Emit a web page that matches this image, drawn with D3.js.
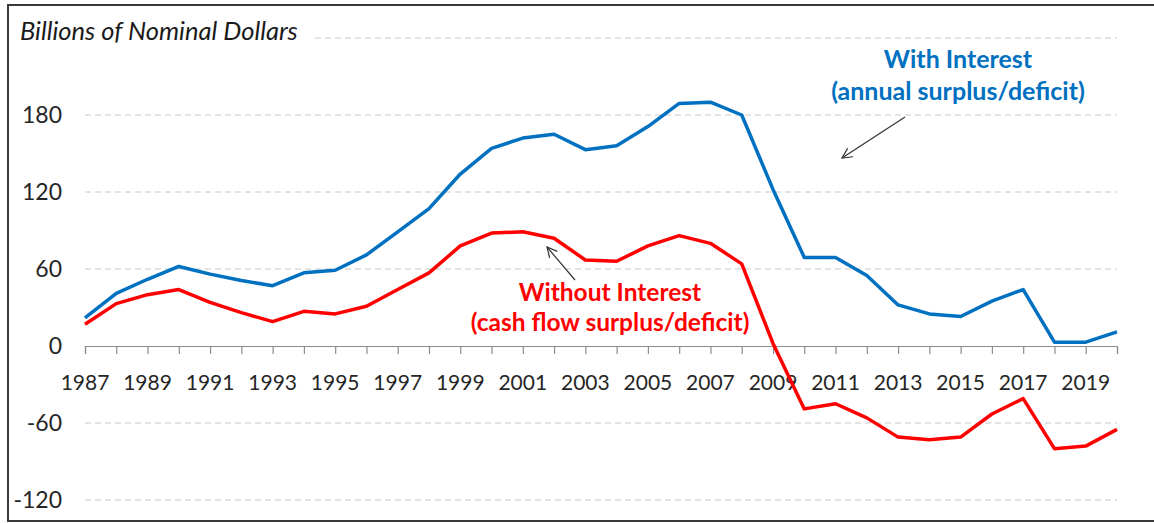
<!DOCTYPE html>
<html>
<head>
<meta charset="utf-8">
<script src="https://cdn.jsdelivr.net/npm/d3@7"></script>
<style>
  body { margin: 0; background: #fff; }
  svg { display: block; font-family: Lato, "Open Sans", sans-serif; }
</style>
</head>
<body>
<div id="chart"></div>
<script>
// years on the x axis
const years = d3.range(1987, 2021);

// with interest (annual surplus/deficit), billions
const withInterest = [22, 41, 52, 62, 56, 51, 47, 57, 59, 71, 89, 107, 134, 154, 162, 165, 153, 156, 171, 189, 190, 180, 122, 69, 69, 55, 32, 25, 23, 35, 44, 3, 3, 11];

// without interest (cash flow surplus/deficit), billions
const withoutInterest = [17, 33, 40, 44, 34, 26, 19, 27, 25, 31, 44, 57, 78, 88, 89, 84, 67, 66, 78, 86, 80, 64, 2, -49, -45, -56, -71, -73, -71, -53, -41, -80, -78, -65];

const yTicks = [-120, -60, 0, 60, 120, 180, 240];
const xLabelYears = years.filter(y => (y - 1987) % 2 === 0);

const width = 1154, height = 523;
const svg = d3.select("#chart").append("svg")
    .attr("width", width)
    .attr("height", height);

// outer frame
svg.append("rect")
    .attr("x", 8).attr("y", 5)
    .attr("width", 1170).attr("height", 516)
    .attr("fill", "none")
    .attr("stroke", "#3a3a3a")
    .attr("stroke-width", 2);

const x = d3.scaleLinear().domain([1987, 2020]).range([85, 1117]);
const y = d3.scaleLinear().domain([-120, 240]).range([500, 38]);

// dashed gridlines
svg.append("g").selectAll("line")
    .data(yTicks.filter(t => t !== 0))
    .join("line")
    .attr("x1", 85).attr("x2", 1117)
    .attr("y1", d => y(d)).attr("y2", d => y(d))
    .attr("stroke", "#c8c8c8")
    .attr("stroke-width", 1)
    .attr("stroke-dasharray", "6,4");

// y labels
svg.append("g").selectAll("text")
    .data(yTicks.filter(t => t !== 240))
    .join("text")
    .attr("x", 62)
    .attr("y", d => y(d))
    .attr("dy", "0.35em")
    .attr("text-anchor", "end")
    .attr("font-size", 23)
    .attr("fill", "#262626")
    .text(d => d);

// zero axis with ticks
const xAxis = d3.axisBottom(x)
    .tickValues(years)
    .tickSize(8)
    .tickFormat("");
const axisG = svg.append("g")
    .attr("transform", `translate(0,${y(0)})`)
    .call(xAxis);
axisG.select(".domain").attr("stroke", "#8c8c8c").attr("stroke-width", 1.2);
axisG.selectAll(".tick line").attr("stroke", "#8c8c8c").attr("stroke-width", 1.2);

svg.append("g").selectAll("text")
    .data(xLabelYears)
    .join("text")
    .attr("x", d => x(d))
    .attr("y", y(0) + 44)
    .attr("text-anchor", "middle")
    .attr("font-size", 21)
    .attr("fill", "#262626")
    .text(d => d);

// title, sits over the top gridline
svg.append("rect")
    .attr("x", 15).attr("y", 18)
    .attr("width", 296).attr("height", 30)
    .attr("fill", "#fff");
svg.append("text")
    .attr("x", 20).attr("y", 40)
    .attr("font-size", 25.5)
    .attr("font-style", "italic")
    .attr("fill", "#1a1a1a")
    .text("Billions of Nominal Dollars");

// lines
const line = d3.line()
    .x((d, i) => x(years[i]))
    .y(d => y(d));

svg.append("path")
    .datum(withoutInterest)
    .attr("d", line)
    .attr("fill", "none")
    .attr("stroke", "#ff0000")
    .attr("stroke-width", 3.5)
    .attr("stroke-linejoin", "round");

svg.append("path")
    .datum(withInterest)
    .attr("d", line)
    .attr("fill", "none")
    .attr("stroke", "#0070c0")
    .attr("stroke-width", 3.5)
    .attr("stroke-linejoin", "round");

// arrows
const defs = svg.append("defs");
defs.append("marker")
    .attr("id", "arr")
    .attr("viewBox", "0 0 12 12")
    .attr("refX", 11).attr("refY", 6)
    .attr("markerWidth", 12).attr("markerHeight", 12)
    .attr("markerUnits", "userSpaceOnUse")
    .attr("orient", "auto")
    .append("path")
    .attr("d", "M1,1 L11,6 L1,11")
    .attr("fill", "none")
    .attr("stroke", "#333")
    .attr("stroke-width", 1.2);

svg.append("line")
    .attr("x1", 905).attr("y1", 117)
    .attr("x2", 842).attr("y2", 158)
    .attr("stroke", "#333").attr("stroke-width", 1.2)
    .attr("marker-end", "url(#arr)");

svg.append("line")
    .attr("x1", 575).attr("y1", 280)
    .attr("x2", 547).attr("y2", 247)
    .attr("stroke", "#333").attr("stroke-width", 1.2)
    .attr("marker-end", "url(#arr)");

// annotations
const blueNote = svg.append("text")
    .attr("text-anchor", "middle")
    .attr("font-size", 25)
    .attr("font-weight", "bold")
    .attr("fill", "#0070c0");
blueNote.append("tspan").attr("x", 958).attr("y", 68).text("With Interest");
blueNote.append("tspan").attr("x", 958).attr("y", 100).text("(annual surplus/deficit)");

const redNote = svg.append("text")
    .attr("text-anchor", "middle")
    .attr("font-size", 24.5)
    .attr("font-weight", "bold")
    .attr("fill", "#ff0000");
redNote.append("tspan").attr("x", 610).attr("y", 301).text("Without Interest");
redNote.append("tspan").attr("x", 610).attr("y", 331).text("(cash flow surplus/deficit)");
</script>
</body>
</html>
